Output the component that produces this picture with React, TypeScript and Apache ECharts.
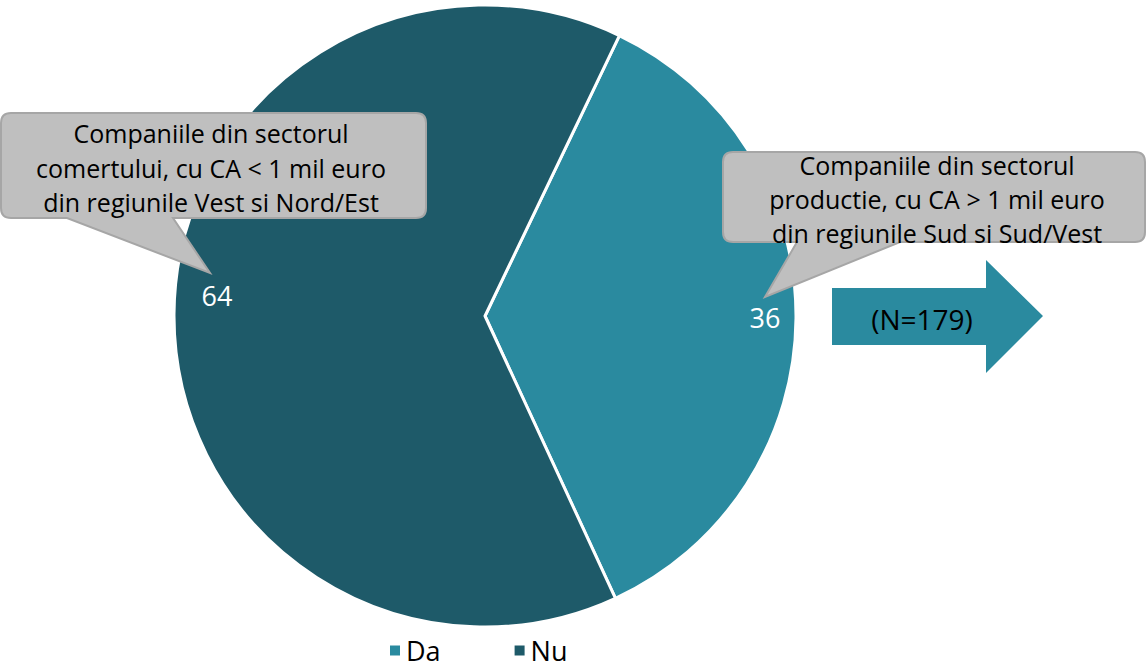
import React, { useEffect, useRef } from "react";
import * as echarts from "echarts";

const categories = ["Da", "Nu"];
const values = [36, 64];
const colors = ["#2A8A9F", "#1E5A69"];
const calloutLeft = ["Companiile din sectorul", "comertului, cu CA < 1 mil euro", "din regiunile Vest si Nord/Est"];
const calloutRight = ["Companiile din sectorul", "productie, cu CA > 1 mil euro", "din regiunile Sud si Sud/Vest"];
const sampleNote = "(N=179)";

const FONT = "'Open Sans', sans-serif";
const labelStyles = [
  { padding: [0, 0, 0, 4] },
  { padding: [0, 0, 0, 20], formatter: "{c}\n ", lineHeight: 37 },
];

echarts.graphic.registerShape(
  "calloutL",
  echarts.graphic.extendPath(
    "M 11 113 H 416 Q 426 113 426 123 V 208 Q 426 218 416 218 H 173 L 210 273 L 67 218 H 11 Q 1 218 1 208 V 123 Q 1 113 11 113 Z",
    {}
  )
);
echarts.graphic.registerShape(
  "calloutR",
  echarts.graphic.extendPath(
    "M 733 152 H 1135 Q 1145 152 1145 162 V 232 Q 1145 242 1135 242 H 900 L 765 297 L 797 242 H 733 Q 723 242 723 232 V 162 Q 723 152 733 152 Z",
    {}
  )
);

export default function App() {
  const ref = useRef<HTMLDivElement>(null);
  useEffect(() => {
    if (!ref.current) return;
    const chart = echarts.init(ref.current, null, { renderer: "svg" });
    const data = categories.map((c, i) => ({ name: c, value: values[i], itemStyle: { color: colors[i] } }));
    const textLines = (lines: string[], cx: number, y0: number, step: number) =>
      lines.map((t, i) => ({
        type: "text",
        x: cx,
        y: y0 + i * step,
        z: 100,
        style: { text: t, fill: "#000", fontSize: 25, fontFamily: FONT, align: "center", verticalAlign: "middle" },
      }));
    chart.setOption({
      animation: false,
      legend: {
        data: categories,
        left: 383,
        top: 632,
        icon: "rect",
        itemWidth: 12,
        itemHeight: 12,
        itemGap: 72,
        textStyle: { fontSize: 27, color: "#000", fontFamily: FONT },
      },
      series: [
        {
          type: "pie",
          center: [485, 316],
          radius: [0, 311],
          startAngle: 64.4,
          clockwise: true,
          label: { show: false },
          labelLine: { show: false },
          itemStyle: { borderColor: "#fff", borderWidth: 3 },
          emphasis: { disabled: true },
          data,
        },
        {
          type: "pie",
          center: [485, 316],
          radius: [240, 310],
          startAngle: 64.4,
          clockwise: true,
          silent: true,
          itemStyle: { color: "rgba(0,0,0,0)" },
          label: {
            show: true,
            position: "inside",
            color: "#fff",
            fontSize: 27,
            fontFamily: FONT,
            formatter: "{c}",
          },
          labelLine: { show: false },
          emphasis: { disabled: true },
          data: categories.map((c, i) => ({ name: c, value: values[i], label: labelStyles[i] })),
        },
      ],
      graphic: [
        { type: "calloutL", x: 0, y: 0, z: 100, style: { fill: "#BFBFBF", stroke: "#A6A6A6", lineWidth: 2 } },
        ...textLines(calloutLeft, 211, 133, 34.5),
        { type: "calloutR", x: 0, y: 0, z: 100, style: { fill: "#BFBFBF", stroke: "#A6A6A6", lineWidth: 2 } },
        ...textLines(calloutRight, 937, 165, 34),
        {
          type: "polygon",
          z: 100,
          shape: {
            points: [
              [832, 288],
              [986, 288],
              [986, 260],
              [1043, 316],
              [986, 373],
              [986, 345],
              [832, 345],
            ],
          },
          style: { fill: colors[0] },
        },
        {
          type: "text",
          x: 922,
          y: 319,
          z: 101,
          style: { text: sampleNote, fill: "#000", fontSize: 28, fontFamily: FONT, align: "center", verticalAlign: "middle" },
        },
      ],
    });
    return () => chart.dispose();
  }, []);
  return <div ref={ref} style={{ position: "absolute", left: 0, top: 0, width: 1147, height: 668 }} />;
}
